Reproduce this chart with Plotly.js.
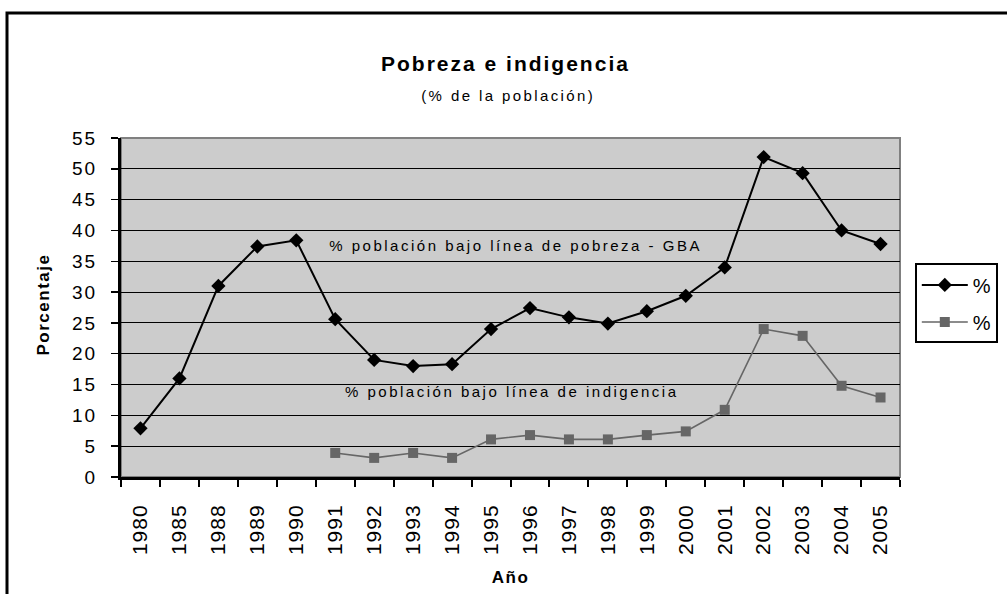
<!DOCTYPE html>
<html>
<head>
<meta charset="utf-8">
<script src="https://cdn.plot.ly/plotly-3.0.1.min.js"></script>
<style>
html,body{margin:0;padding:0;background:#fff;}
#chart{width:1007px;height:594px;}
.xtick text{letter-spacing:1px;}
.ytick text{letter-spacing:2px;}
</style>
</head>
<body>
<div id="chart"></div>
<script>
const years = ["1980","1985","1988","1989","1990","1991","1992","1993","1994","1995","1996","1997","1998","1999","2000","2001","2002","2003","2004","2005"];
const pobreza = [7.9,16.0,31.0,37.4,38.4,25.6,19.0,18.0,18.3,24.0,27.4,25.9,24.9,26.9,29.4,34.0,51.9,49.3,40.0,37.8];
const indigencia = [null,null,null,null,null,3.9,3.1,3.9,3.1,6.1,6.8,6.1,6.1,6.8,7.4,10.9,24.0,22.9,14.8,12.9];
const seriesNames = ["%","%"];
const titleText = "<b>Pobreza e indigencia</b>";
const subtitleText = "(% de la población)";
const labelPobreza = "% población bajo línea de pobreza - GBA";
const labelIndigencia = "% población bajo línea de indigencia";
const yTitle = "<b>Porcentaje</b>";
const xTitle = "<b>Año</b>";

const font = "Liberation Sans, Arial, sans-serif";

const traces = [
  {x: years, y: pobreza, name: seriesNames[0], legendgroup: "a", type: "scatter", mode: "lines+markers",
   line: {color: "#000000", width: 2}, marker: {symbol: "diamond", size: 11, color: "#000000"}},
  {x: years, y: indigencia, name: seriesNames[1], legendgroup: "b", type: "scatter", mode: "lines+markers",
   line: {color: "#666666", width: 1.6}, marker: {symbol: "square", size: 10, color: "#666666"}, connectgaps: false}
];

const layout = {
  width: 1007, height: 594,
  paper_bgcolor: "#ffffff", plot_bgcolor: "#cccccc",
  margin: {l: 121, r: 107, t: 138, b: 117, autoexpand: false},
  font: {family: font, color: "#000000"},
  showlegend: true,
  legend: {x: 1.019, y: 0.63, xanchor: "left", yanchor: "top",
    bordercolor: "#000000", borderwidth: 2, bgcolor: "#ffffff",
    font: {size: 20, family: font}, tracegroupgap: 8, itemwidth: 46, traceorder: "grouped"},
  xaxis: {type: "category", tickson: "boundaries", ticks: "outside", ticklen: 7, tickwidth: 2, tickcolor: "#000",
    showline: true, linecolor: "#000", linewidth: 3, showgrid: false, tickangle: -90,
    ticklabelstandoff: 16, automargin: false,
    tickfont: {size: 21, family: font}, range: [-0.5, 19.5], zeroline: false},
  yaxis: {range: [0, 55], dtick: 5, ticks: "outside", ticklen: 7, tickwidth: 1.5, tickcolor: "#000",
    showline: true, linecolor: "#000", linewidth: 3, showgrid: true, gridcolor: "#000", gridwidth: 1,
    ticklabelstandoff: 10, automargin: false,
    tickfont: {size: 19, family: font}, zeroline: false},
  annotations: [
    {xref: "paper", yref: "paper", x: (505-121)/779, y: (477-63)/339, text: titleText, showarrow: false,
     font: {size: 21, family: font}, xanchor: "center", yanchor: "middle"},
    {xref: "paper", yref: "paper", x: (508-121)/779, y: (477-95)/339, text: subtitleText, showarrow: false,
     font: {size: 15, family: font}, xanchor: "center", yanchor: "middle"},
    {xref: "paper", yref: "y", x: 0.506, y: 37.6, text: labelPobreza, showarrow: false,
     font: {size: 15, family: font}, xanchor: "center", yanchor: "middle"},
    {xref: "paper", yref: "y", x: 0.502, y: 13.8, text: labelIndigencia, showarrow: false,
     font: {size: 15, family: font}, xanchor: "center", yanchor: "middle"},
    {xref: "paper", yref: "paper", x: -78/779, y: (477-305)/339, text: yTitle, showarrow: false, textangle: -90,
     font: {size: 17, family: font}, xanchor: "center", yanchor: "middle"},
    {xref: "paper", yref: "paper", x: (510-121)/779, y: -(577-477)/339, text: xTitle, showarrow: false,
     font: {size: 17, family: font}, xanchor: "center", yanchor: "middle"}
  ],
  shapes: [
    {type: "rect", xref: "paper", yref: "paper", x0: 0, x1: 1, y0: 0, y1: 1,
     line: {color: "#808080", width: 2}, layer: "below"},
    {type: "rect", xref: "paper", yref: "paper", x0: -114/779, x1: 1.2, y0: -0.4, y1: 1 + 125/339,
     line: {color: "#000000", width: 3}, fillcolor: "rgba(0,0,0,0)"}
  ]
};

Plotly.newPlot("chart", traces, layout, {displayModeBar: false, staticPlot: true}).then(function(gd){
  // widen letter spacing of titles/labels to match the original rendering
  const anns = gd.querySelectorAll(".annotation-text");
  const spacing = [2, 2.4, 2.5, 2.5, 1.5, 1.5];
  anns.forEach(function(el, i){ el.style.letterSpacing = spacing[i] + "px"; });
});
</script>
</body>
</html>
